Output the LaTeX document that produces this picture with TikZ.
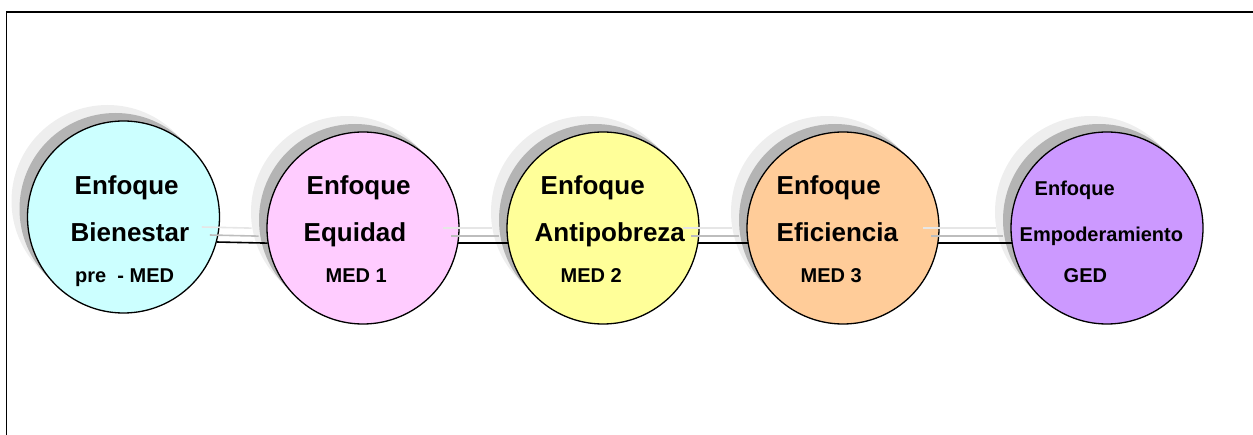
\documentclass[tikz,border=0pt]{standalone}
\usepackage{fontspec}
\setmainfont{Liberation Sans}
\usetikzlibrary{calc}
\definecolor{cyanfill}{HTML}{CCFFFF}
\definecolor{pinkfill}{HTML}{FFCCFF}
\definecolor{yellowfill}{HTML}{FFFF99}
\definecolor{orangefill}{HTML}{FFCC99}
\definecolor{purplefill}{HTML}{CC99FF}
\definecolor{shdark}{HTML}{B4B4B4}
\definecolor{shlight}{HTML}{EEEEEE}
\definecolor{lndark}{HTML}{BDBDBD}
\definecolor{lnlight}{HTML}{E6E6E6}
\tikzset{
  disc/.style={circle, draw=black, line width=1.3pt, minimum size=192pt, inner sep=0pt},
  shadowA/.style={fill=shlight},
  shadowB/.style={fill=shdark},
  conn/.style={draw=black, line width=1.6pt},
  connshA/.style={draw=lnlight, line width=1.6pt},
  connshB/.style={draw=lndark, line width=1.6pt},
  big/.style={anchor=base west, inner sep=0pt, font=\fontsize{26}{30}\selectfont\bfseries},
  small/.style={anchor=base west, inner sep=0pt, font=\fontsize{20}{24}\selectfont\bfseries},
  frame/.style={draw=black, line width=1.5pt}
}
\begin{document}
\begin{tikzpicture}[x=1pt,y=-1pt]
\useasboundingbox (0,0) rectangle (1253,435);
\draw[frame] (6.7,436) -- (6.7,12) -- (1254,12);

% circle 1
\fill[shadowA] (107.5,201) circle[radius=96pt];
\fill[shadowB] (115.5,209) circle[radius=96pt];
\node[disc, fill=cyanfill] (c1) at (123.5,217) {};

% circle 2
\fill[shadowA] (347,212) circle[radius=96pt];
\fill[shadowB] (355,220) circle[radius=96pt];
\node[disc, fill=pinkfill] (c2) at (363,228) {};

% circle 3
\fill[shadowA] (587,212) circle[radius=96pt];
\fill[shadowB] (595,220) circle[radius=96pt];
\node[disc, fill=yellowfill] (c3) at (603,228) {};

% circle 4
\fill[shadowA] (827,212) circle[radius=96pt];
\fill[shadowB] (835,220) circle[radius=96pt];
\node[disc, fill=orangefill] (c4) at (843,228) {};

% circle 5
\fill[shadowA] (1091,212) circle[radius=96pt];
\fill[shadowB] (1099,220) circle[radius=96pt];
\node[disc, fill=purplefill] (c5) at (1107,228) {};

% connector shadows
\draw[connshA] ($(c1.-15.7)+(-15,-15)$) -- ($(c2.189)+(-16,-15)$);
\draw[connshB] ($(c1.-15.7)+(-7,-7)$) -- ($(c2.189)+(-9,-7)$);
\draw[connshA] ($(c2.-9)+(-15,-15)$) -- ($(c3.189)+(-16,-15)$);
\draw[connshB] ($(c2.-9)+(-7,-7)$) -- ($(c3.189)+(-9,-7)$);
\draw[connshA] ($(c3.-9)+(-15,-15)$) -- ($(c4.189)+(-16,-15)$);
\draw[connshB] ($(c3.-9)+(-7,-7)$) -- ($(c4.189)+(-9,-7)$);
\draw[connshA] ($(c4.-9)+(-15,-15)$) -- ($(c5.189)+(-16,-15)$);
\draw[connshB] ($(c4.-9)+(-7,-7)$) -- ($(c5.189)+(-9,-7)$);

% connectors
\draw[conn] (c1.-15.7) -- (c2.189);
\draw[conn] (c2.-9) -- (c3.189);
\draw[conn] (c3.-9) -- (c4.189);
\draw[conn] (c4.-9) -- (c5.189);

% texts
\node[big] (t1a) at (74.5,195) {Enfoque};
\node[big] (t1b) at (70.5,242) {Bienestar};
\node[small] (t1c) at (75,283) {pre\ \ - MED};

\node[big] (t2a) at (306.5,195) {Enfoque};
\node[big] (t2b) at (303.5,242) {Equidad};
\node[small] (t2c) at (325.5,283) {MED 1};

\node[big] (t3a) at (540.5,195) {Enfoque};
\node[big] (t3b) at (534.5,242) {Antipobreza};
\node[small] (t3c) at (560.5,283) {MED 2};

\node[big] (t4a) at (776.5,195) {Enfoque};
\node[big] (t4b) at (776.5,242) {Eficiencia};
\node[small] (t4c) at (800.5,283) {MED 3};

\node[small] (t5a) at (1034.5,196) {Enfoque};
\node[small] (t5b) at (1019.5,242) {Empoderamiento};
\node[small] (t5c) at (1063.5,283) {GED};
\end{tikzpicture}
\end{document}
